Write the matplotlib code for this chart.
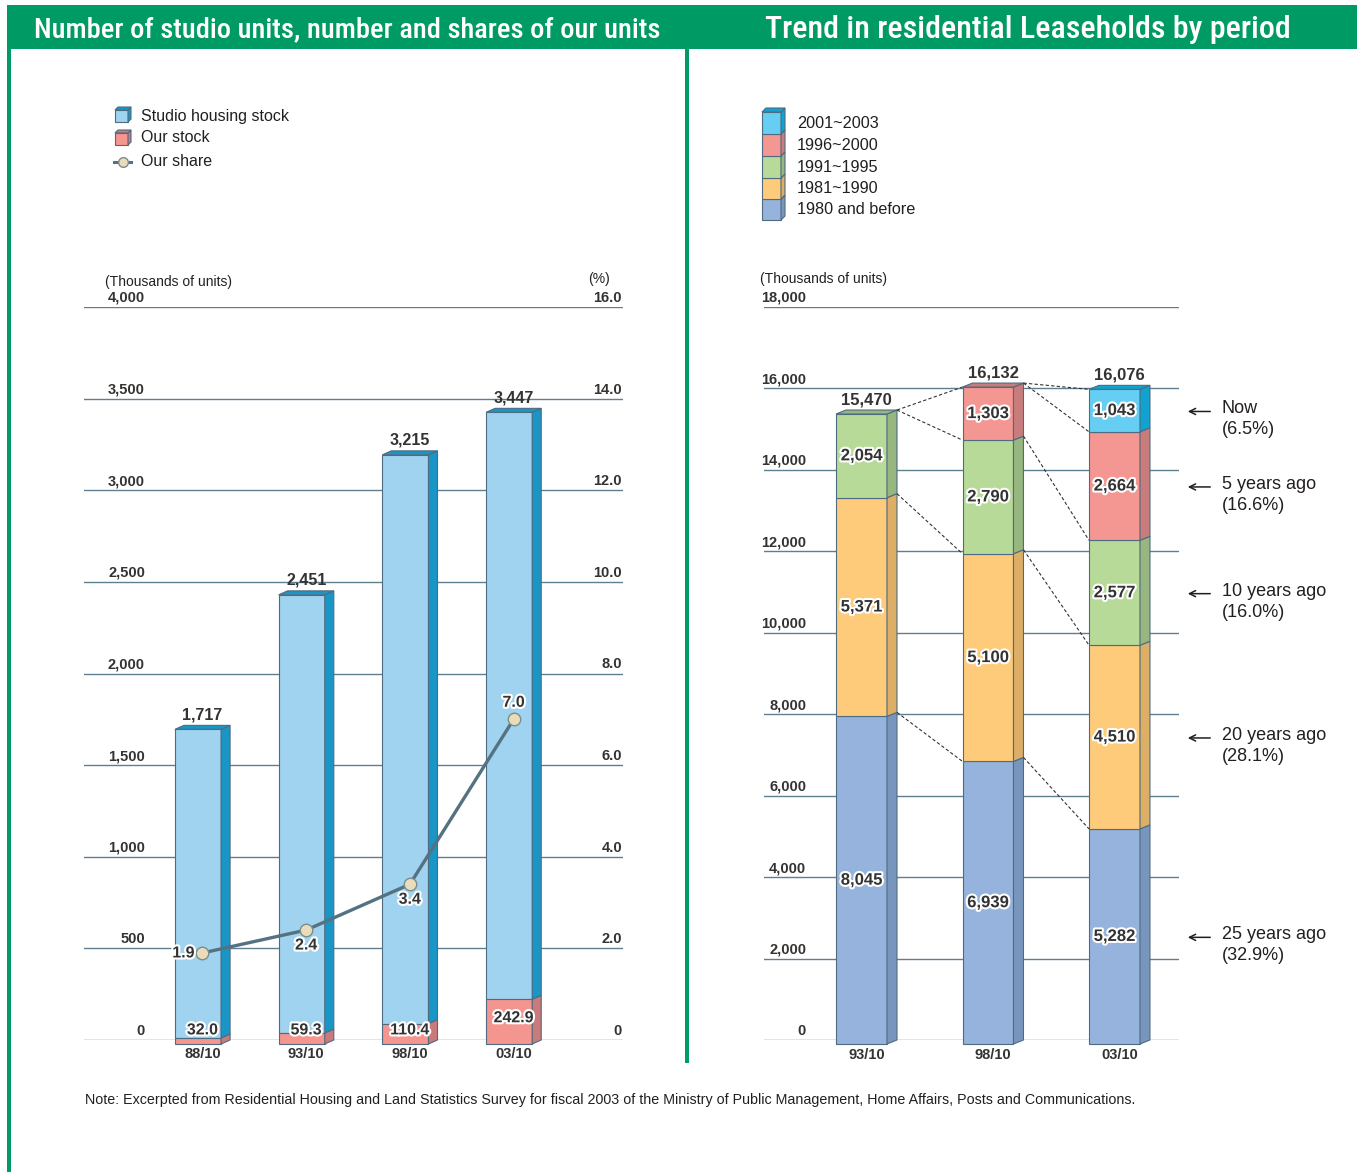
import matplotlib
matplotlib.use("Agg")
import matplotlib.pyplot as plt
import matplotlib.patheffects as pe
from matplotlib import font_manager
from matplotlib.patches import Polygon, Rectangle

W, H = 1357, 1172

# studio units (thousands) and our share
STUDIO_PERIODS = ["88/10", "93/10", "98/10", "03/10"]
STUDIO_STOCK = [1717, 2451, 3215, 3447]
OUR_STOCK = [32.0, 59.3, 110.4, 242.9]
OUR_SHARE = [1.9, 2.4, 3.4, 7.0]

# residential leaseholds by construction period (thousands)
LEASE_PERIODS = ["93/10", "98/10", "03/10"]
COHORTS = ["1980 and before", "1981~1990", "1991~1995", "1996~2000", "2001~2003"]
BEFORE_1980 = [8045, 6939, 5282]
Y1981_1990 = [5371, 5100, 4510]
Y1991_1995 = [2054, 2790, 2577]
Y1996_2000 = [0, 1303, 2664]
Y2001_2003 = [0, 0, 1043]
AGE_LABELS = ["25 years ago", "20 years ago", "10 years ago", "5 years ago", "Now"]

GREEN = "#009a64"
INK = "#231f20"
NUM = "#333333"
GRID = "#5f7f90"
EDGE = "#4f6b80"
HALO = [pe.withStroke(linewidth=3, foreground="white")]

COH_FACE = ["#95b3dc", "#fecb7a", "#b7da98", "#f49691", "#66cdf3"]
COH_SIDE = ["#7896bd", "#dcae66", "#97b680", "#c97c7c", "#12a2cf"]

names = {f.name for f in font_manager.fontManager.ttflist}
HEAD_FONT = next((f for f in ["Roboto Condensed", "Liberation Sans Narrow",
                              "Open Sans Condensed"] if f in names), "Roboto")
BODY = "Liberation Sans"
plt.rcParams["font.family"] = [BODY, "DejaVu Sans"]


def frect(x0, y0, x1, y1):
    return [x0 / W, 1 - y1 / H, (x1 - x0) / W, (y1 - y0) / H]


def cube(ax, x, y, w, h, d, face, side, top=True):
    ax.add_patch(Rectangle((x, y), w, h, fc=face, ec=EDGE, lw=0.8, zorder=3))
    ax.add_patch(Polygon([(x + w, y), (x + w + d, y - d), (x + w + d, y + h - d),
                          (x + w, y + h)], fc=side, ec=EDGE, lw=0.8, zorder=3))
    if top:
        ax.add_patch(Polygon([(x, y), (x + d, y - d), (x + w + d, y - d), (x + w, y)],
                             fc=side, ec=EDGE, lw=0.8, zorder=3))


def bar3d(ax, x, bottom, height, w, dx, dy, face, side, top=True):
    """Front face through ax.bar, set back by dy; side and top faces as polygons."""
    b = ax.bar(x, height, w, bottom=bottom - dy, color=face, edgecolor=EDGE,
               linewidth=0.8, zorder=3)
    for p in b:
        p.set_clip_on(False)
    r = x + w / 2
    y0, y1 = bottom, bottom + height
    ax.add_patch(Polygon([(r, y0 - dy), (r + dx, y0), (r + dx, y1), (r, y1 - dy)],
                         fc=side, ec=EDGE, lw=0.8, zorder=3, clip_on=False))
    if top:
        ax.add_patch(Polygon([(x - w / 2, y1 - dy), (x - w / 2 + dx, y1), (r + dx, y1),
                              (r, y1 - dy)], fc=side, ec=EDGE, lw=0.8, zorder=3,
                             clip_on=False))


fig = plt.figure(figsize=(W / 100, H / 100), dpi=100)
bg = fig.add_axes([0, 0, 1, 1])
bg.set_xlim(0, W)
bg.set_ylim(H, 0)
bg.axis("off")

# header band, frame and divider
bg.add_patch(Rectangle((7, 5), W - 7, 44, fc=GREEN, ec="none"))
bg.add_patch(Rectangle((7, 5), 4, H, fc=GREEN, ec="none"))
bg.add_patch(Rectangle((685, 49), 4, 1014, fc=GREEN, ec="none"))
bg.text(34, 30, "Number of studio units, number and shares of our units", color="white",
        fontsize=20.5, family=HEAD_FONT, weight="medium", va="center", ha="left")
bg.text(765, 30, "Trend in residential Leaseholds by period", color="white",
        fontsize=23, family=HEAD_FONT, weight="medium", va="center", ha="left")

# left legend
cube(bg, 115, 110, 13, 12, 3, "#a0d3f0", "#1996c6")
bg.text(141, 116, "Studio housing stock", fontsize=11.5, color=INK, va="center")
cube(bg, 115, 133, 13, 12, 3, "#f4958f", "#c97a7a")
bg.text(141, 138, "Our stock", fontsize=11.5, color=INK, va="center")
bg.plot([114, 131], [162, 162], color="#557282", lw=2.2)
bg.plot([122.5], [162], "o", ms=7, mfc="#e8dcba", mec="#7d8c8c", mew=1)
bg.text(141, 161, "Our share", fontsize=11.5, color=INK, va="center")

# right legend (stacked swatch)
seg_y = [199, 178, 156, 134, 112]
seg_h = [21, 21, 22, 22, 22]
for i, lab in enumerate(COHORTS):
    cube(bg, 762, seg_y[i], 19, seg_h[i], 4, COH_FACE[i], COH_SIDE[i], top=(i == 4))
    bg.text(797, seg_y[i] + seg_h[i] / 2, lab, fontsize=11.7, color=INK, va="center")

bg.text(85, 1100, "Note: Excerpted from Residential Housing and Land Statistics Survey for "
        "fiscal 2003 of the Ministry of Public Management, Home Affairs, Posts and "
        "Communications.", fontsize=10.3, color=INK, va="center")

# ---- left chart ----
axL = fig.add_axes(frect(84, 307, 623, 1040))
axL.set_xlim(-1.099, 4.098)
axL.set_ylim(0, 4000)
axL.axis("off")
axS = axL.twinx()
axS.set_ylim(0, 16)
axS.axis("off")

for v in range(0, 4001, 500):
    axL.axhline(v, color=GRID, lw=1, zorder=1)
    axL.annotate(f"{v:,}", xy=(0, v), xycoords=("axes fraction", "data"),
                 xytext=(61, 9), textcoords="offset pixels", ha="right", va="center",
                 fontsize=10.5, weight="bold", color=NUM)
    pct = v / 250
    axL.annotate(f"{pct:.1f}" if pct else "0", xy=(1, v),
                 xycoords=("axes fraction", "data"), xytext=(-1, 9),
                 textcoords="offset pixels", ha="right", va="center",
                 fontsize=10.5, weight="bold", color=NUM)
axL.annotate("(Thousands of units)", xy=(0, 1), xycoords="axes fraction", xytext=(21, 25),
             textcoords="offset pixels", fontsize=10, color=INK, va="center")
axL.annotate("(%)", xy=(1, 1), xycoords="axes fraction", xytext=(-13, 28),
             textcoords="offset pixels", fontsize=10, color=INK, va="center", ha="right")

wL, dxL, dyL = 0.445, 0.087, 21.8
xs = list(range(len(STUDIO_PERIODS)))
for i, x in enumerate(xs):
    bar3d(axL, x, OUR_STOCK[i], STUDIO_STOCK[i] - OUR_STOCK[i], wL, dxL, dyL,
          "#a0d3f0", "#1996c6")
    bar3d(axL, x, 0, OUR_STOCK[i], wL, dxL, dyL, "#f4958f", "#c97a7a", top=False)
    axL.annotate(f"{STUDIO_STOCK[i]:,}", xy=(x + dxL / 2, STUDIO_STOCK[i]),
                 xytext=(0, 3), textcoords="offset pixels", ha="center", va="bottom",
                 fontsize=11.5, weight="bold", color=NUM, zorder=5)
    axL.text(x + dxL / 2, max(OUR_STOCK[i] / 2, 55), f"{OUR_STOCK[i]:.1f}",
             ha="center", va="center", fontsize=11.5, weight="bold", color=NUM,
             zorder=5, path_effects=HALO)
    axL.annotate(STUDIO_PERIODS[i], xy=(x + dxL / 2, 0), xytext=(0, -14),
                 textcoords="offset pixels", ha="center", va="center", fontsize=10.5,
                 weight="bold", color=NUM, annotation_clip=False)

xm = [x + dxL / 2 for x in xs]
axS.plot(xm, OUR_SHARE, color="#557282", lw=2.4, zorder=6)
axS.plot(xm, OUR_SHARE, "o", ms=9, mfc="#e8dcba", mec="#7d8c8c", mew=1, zorder=7)
share_off = [(-19, 0), (0, -15), (0, -15), (0, 17)]
for x, v, off in zip(xm, OUR_SHARE, share_off):
    axS.annotate(f"{v:.1f}", xy=(x, v), xytext=off, textcoords="offset pixels",
                 ha="center", va="center", fontsize=11.5, weight="bold", color=NUM,
                 zorder=8, path_effects=HALO)

# ---- right chart ----
axR = fig.add_axes(frect(764, 307, 1179, 1040))
axR.set_xlim(-0.7708, 2.510)
axR.set_ylim(0, 18000)
axR.axis("off")
for v in range(0, 18001, 2000):
    axR.axhline(v, color=GRID, lw=1, zorder=1)
    axR.annotate(f"{v:,}", xy=(0, v), xycoords=("axes fraction", "data"),
                 xytext=(42, 9), textcoords="offset pixels", ha="right", va="center",
                 fontsize=10.5, weight="bold", color=NUM)
axR.annotate("(Thousands of units)", xy=(0, 1), xycoords="axes fraction", xytext=(-4, 28),
             textcoords="offset pixels", fontsize=10, color=INK, va="center")

wR, dxR, dyR = 0.403, 0.079, 98
series = [BEFORE_1980, Y1981_1990, Y1991_1995, Y1996_2000, Y2001_2003]
cums = []
for j, period in enumerate(LEASE_PERIODS):
    base = 0
    col = [s[j] for s in series]
    n = max(k for k, v in enumerate(col) if v > 0) + 1
    bounds = []
    for k in range(n):
        bar3d(axR, j, base, col[k], wR, dxR, dyR, COH_FACE[k], COH_SIDE[k],
              top=(k == n - 1))
        axR.text(j, base + col[k] / 2 - dyR, f"{col[k]:,}", ha="center", va="center",
                 fontsize=12, weight="bold", color=NUM, zorder=5, path_effects=HALO)
        base += col[k]
        bounds.append(base)
    cums.append(bounds)
    axR.annotate(f"{base:,}", xy=(j + dxR / 2, base), xytext=(0, 3),
                 textcoords="offset pixels", ha="center", va="bottom", fontsize=12,
                 weight="bold", color=NUM, zorder=5)
    axR.annotate(period, xy=(j + dxR / 2, 0), xytext=(0, -15),
                 textcoords="offset pixels", ha="center", va="center", fontsize=10.5,
                 weight="bold", color=NUM, annotation_clip=False)

# cohort tracking lines between neighbouring bars
for j in range(len(LEASE_PERIODS) - 1):
    a, b = cums[j], cums[j + 1]
    pairs = [(a[k], b[k]) for k in range(len(a))] + [(a[-1], b[-1])]
    for ya, yb in pairs:
        axR.plot([j + wR / 2 + dxR, j + 1 - wR / 2], [ya, yb - dyR], color=NUM,
                 lw=0.8, ls=(0, (3, 2)), zorder=4, clip_on=False)

# age annotations for the latest column
last = [s[-1] for s in series]
total = sum(last)
ytr = axR.get_yaxis_transform()
base = 0
for k, v in enumerate(last):
    yc = base + v / 2 - 120
    base += v
    axR.annotate("", xy=(1.0145, yc), xycoords=ytr, xytext=(1.082, yc), textcoords=ytr,
                 arrowprops=dict(arrowstyle="->", color=INK, lw=1.1, mutation_scale=11),
                 annotation_clip=False)
    axR.annotate(f"{AGE_LABELS[k]}\n({v / total * 100:.1f}%)", xy=(1.1036, yc),
                 xycoords=ytr, xytext=(0, 11), textcoords="offset pixels",
                 ha="left", va="top", fontsize=13, color=INK, linespacing=1.3,
                 annotation_clip=False)

fig.savefig("out.png", dpi=100, facecolor="white")
